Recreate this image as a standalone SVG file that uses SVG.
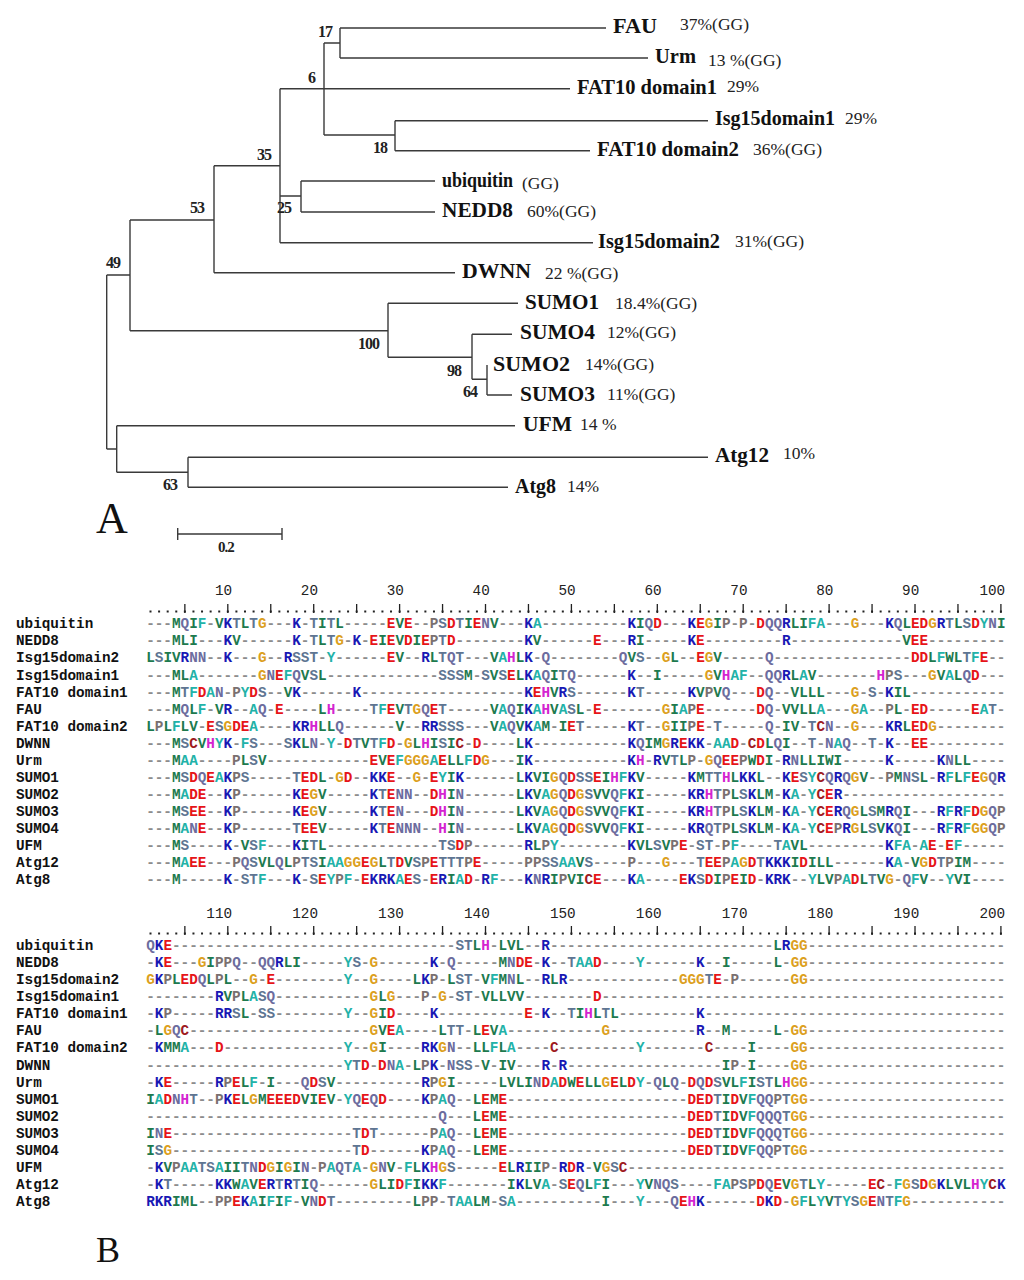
<svg xmlns="http://www.w3.org/2000/svg" width="1024" height="1280" viewBox="0 0 1024 1280">
<style>
.ln{fill:none;stroke:#3a3a3a;stroke-width:1.4}
.lab{font-family:"Liberation Serif","Times New Roman",serif;font-weight:bold;font-size:21px;fill:#111}
.pct{font-family:"Liberation Serif","Times New Roman",serif;font-size:17.5px;fill:#222}
.bs{font-family:"Liberation Serif","Times New Roman",serif;font-weight:bold;font-size:16px;fill:#222;letter-spacing:-1px}
.big{font-family:"Liberation Serif","Times New Roman",serif;fill:#111}
.nm{font-family:"Liberation Mono","Courier New",monospace;font-weight:bold;font-size:14.32px;fill:#111}
.sq{font-family:"Liberation Mono","Courier New",monospace;font-weight:bold;font-size:14.32px;fill:#8c8c8c}
.num{font-family:"Liberation Mono","Courier New",monospace;font-size:14.32px;fill:#222;text-anchor:end}
.dots{stroke:#222;stroke-width:2;stroke-dasharray:2 6.59}
.tick{fill:none;stroke:#222;stroke-width:1.3}
.g{fill:#1d7a4e}.t{fill:#22b2a8}.b{fill:#1818b4}.r{fill:#e61418}.o{fill:#dca01e}.m{fill:#d424d0}.c{fill:#9e1a1e}.s{fill:#5e7592}.n{fill:#6c6c9e}.p{fill:#7a7070}
</style>
<rect width="1024" height="1280" fill="#fff"/>
<g id="connectors">
<path class="ln" d="M340 28V58M340 28H606M340 58H648M324 43H340M324 43V135M280 88.7H570M280 88.7V242.7M324 135H395M395 120.7V150.7M395 120.7H708M395 150.7H590M214 165.7H280M280 196H301M301 181V212M301 181H435M301 212H435M280 242.7H593M214 165.7V272.7M214 272.7H455M130 220H214M130 220V330.7M106.7 275H130M106.7 275V449M130 330.7H388M388 303.3V357.3M388 303.3H518M388 357.3H472M472 334.3V379.3M472 334.3H512M472 379.3H487M487 365V395M487 395H512M106.7 449H116.7M116.7 425.7V472.3M116.7 425.7H515M116.7 472.3H188M188 457.3V487.3M188 457.3H708M188 487.3H508"/>
</g>
<g id="bootstrap">
<text class="bs" x="318" y="37">17</text>
<text class="bs" x="308" y="83">6</text>
<text class="bs" x="373" y="153">18</text>
<text class="bs" x="257" y="160">35</text>
<text class="bs" x="277" y="213">25</text>
<text class="bs" x="190" y="213">53</text>
<text class="bs" x="106" y="268">49</text>
<text class="bs" x="358" y="349">100</text>
<text class="bs" x="447" y="376">98</text>
<text class="bs" x="463" y="397">64</text>
<text class="bs" x="163" y="490">63</text>
</g>
<g id="n-FAU"><text class="lab" x="613" y="33" textLength="44" lengthAdjust="spacingAndGlyphs">FAU</text><text class="pct" x="680" y="30">37%(GG)</text></g>
<g id="n-Urm"><text class="lab" x="655" y="63" textLength="41" lengthAdjust="spacingAndGlyphs">Urm</text><text class="pct" x="708" y="66">13 %(GG)</text></g>
<g id="n-FAT10d1"><text class="lab" x="577" y="94" textLength="140" lengthAdjust="spacingAndGlyphs">FAT10 domain1</text><text class="pct" x="727" y="92">29%</text></g>
<g id="n-Isg15d1"><text class="lab" x="715" y="125" textLength="120" lengthAdjust="spacingAndGlyphs">Isg15domain1</text><text class="pct" x="845" y="124">29%</text></g>
<g id="n-FAT10d2"><text class="lab" x="597" y="156" textLength="142" lengthAdjust="spacingAndGlyphs">FAT10 domain2</text><text class="pct" x="753" y="155">36%(GG)</text></g>
<g id="n-ubiquitin"><text class="lab" x="442" y="187" textLength="71" lengthAdjust="spacingAndGlyphs">ubiquitin</text><text class="pct" x="522" y="189">(GG)</text></g>
<g id="n-NEDD8"><text class="lab" x="442" y="217" textLength="71" lengthAdjust="spacingAndGlyphs">NEDD8</text><text class="pct" x="527" y="217">60%(GG)</text></g>
<g id="n-Isg15d2"><text class="lab" x="598" y="248" textLength="122" lengthAdjust="spacingAndGlyphs">Isg15domain2</text><text class="pct" x="735" y="247">31%(GG)</text></g>
<g id="n-DWNN"><text class="lab" x="462" y="278" textLength="69" lengthAdjust="spacingAndGlyphs">DWNN</text><text class="pct" x="545" y="279">22 %(GG)</text></g>
<g id="n-SUMO1"><text class="lab" x="525" y="309" textLength="74" lengthAdjust="spacingAndGlyphs">SUMO1</text><text class="pct" x="615" y="309">18.4%(GG)</text></g>
<g id="n-SUMO4"><text class="lab" x="520" y="339" textLength="75" lengthAdjust="spacingAndGlyphs">SUMO4</text><text class="pct" x="607" y="338">12%(GG)</text></g>
<g id="n-SUMO2"><text class="lab" x="493" y="371" textLength="77" lengthAdjust="spacingAndGlyphs">SUMO2</text><text class="pct" x="585" y="370">14%(GG)</text></g>
<g id="n-SUMO3"><text class="lab" x="520" y="401" textLength="75" lengthAdjust="spacingAndGlyphs">SUMO3</text><text class="pct" x="607" y="400">11%(GG)</text></g>
<g id="n-UFM"><text class="lab" x="523" y="431" textLength="49" lengthAdjust="spacingAndGlyphs">UFM</text><text class="pct" x="580" y="430">14 %</text></g>
<g id="n-Atg12"><text class="lab" x="715" y="462" textLength="54" lengthAdjust="spacingAndGlyphs">Atg12</text><text class="pct" x="783" y="459">10%</text></g>
<g id="n-Atg8"><text class="lab" x="515" y="493" textLength="41" lengthAdjust="spacingAndGlyphs">Atg8</text><text class="pct" x="567" y="492">14%</text></g>
<g id="scalebar">
<path class="ln" d="M177.7 534H282M177.7 528V540M282 528V540"/>
<text class="bs" x="218" y="552" style="font-size:15px">0.2</text>
</g>
<text class="big" x="96" y="533" style="font-size:44px">A</text>
<text class="big" x="96" y="1262" style="font-size:36px">B</text>
<g id="ruler1">
<text class="num" x="232.1" y="595">10</text><text class="num" x="318" y="595">20</text><text class="num" x="403.9" y="595">30</text><text class="num" x="489.8" y="595">40</text><text class="num" x="575.7" y="595">50</text><text class="num" x="661.6" y="595">60</text><text class="num" x="747.5" y="595">70</text><text class="num" x="833.4" y="595">80</text><text class="num" x="919.3" y="595">90</text><text class="num" x="1005.2" y="595">100</text>
<line class="dots" x1="149.5" y1="611.5" x2="1002" y2="611.5"/>
<path class="tick" d="M184.86 604v9m42.95-9v9m42.95-9v9m42.95-9v9m42.95-9v9m42.95-9v9m42.95-9v9m42.95-9v9m42.95-9v9m42.95-9v9m42.95-9v9m42.95-9v9m42.95-9v9m42.95-9v9m42.95-9v9m42.95-9v9m42.95-9v9m42.95-9v9m42.95-9v9m42.95-9v9"/>
</g>
<g id="ruler2">
<text class="num" x="232.1" y="918">110</text><text class="num" x="318" y="918">120</text><text class="num" x="403.9" y="918">130</text><text class="num" x="489.8" y="918">140</text><text class="num" x="575.7" y="918">150</text><text class="num" x="661.6" y="918">160</text><text class="num" x="747.5" y="918">170</text><text class="num" x="833.4" y="918">180</text><text class="num" x="919.3" y="918">190</text><text class="num" x="1005.2" y="918">200</text>
<line class="dots" x1="149.5" y1="933.5" x2="1002" y2="933.5"/>
<path class="tick" d="M184.86 926v9m42.95-9v9m42.95-9v9m42.95-9v9m42.95-9v9m42.95-9v9m42.95-9v9m42.95-9v9m42.95-9v9m42.95-9v9m42.95-9v9m42.95-9v9m42.95-9v9m42.95-9v9m42.95-9v9m42.95-9v9m42.95-9v9m42.95-9v9m42.95-9v9m42.95-9v9"/>
</g>
<g id="names1">
<text class="nm" x="16" y="628.3">ubiquitin</text>
<text class="nm" x="16" y="645.4">NEDD8</text>
<text class="nm" x="16" y="662.4">Isg15domain2</text>
<text class="nm" x="16" y="679.5">Isg15domain1</text>
<text class="nm" x="16" y="696.6">FAT10 domain1</text>
<text class="nm" x="16" y="713.7">FAU</text>
<text class="nm" x="16" y="730.7">FAT10 domain2</text>
<text class="nm" x="16" y="747.8">DWNN</text>
<text class="nm" x="16" y="764.9">Urm</text>
<text class="nm" x="16" y="781.9">SUMO1</text>
<text class="nm" x="16" y="799">SUMO2</text>
<text class="nm" x="16" y="816.1">SUMO3</text>
<text class="nm" x="16" y="833.1">SUMO4</text>
<text class="nm" x="16" y="850.2">UFM</text>
<text class="nm" x="16" y="867.3">Atg12</text>
<text class="nm" x="16" y="884.4">Atg8</text>
</g>
<g id="names2">
<text class="nm" x="16" y="950">ubiquitin</text>
<text class="nm" x="16" y="967.1">NEDD8</text>
<text class="nm" x="16" y="984.1">Isg15domain2</text>
<text class="nm" x="16" y="1001.2">Isg15domain1</text>
<text class="nm" x="16" y="1018.3">FAT10 domain1</text>
<text class="nm" x="16" y="1035.4">FAU</text>
<text class="nm" x="16" y="1052.4">FAT10 domain2</text>
<text class="nm" x="16" y="1069.5">DWNN</text>
<text class="nm" x="16" y="1086.6">Urm</text>
<text class="nm" x="16" y="1103.6">SUMO1</text>
<text class="nm" x="16" y="1120.7">SUMO2</text>
<text class="nm" x="16" y="1137.8">SUMO3</text>
<text class="nm" x="16" y="1154.8">SUMO4</text>
<text class="nm" x="16" y="1171.9">UFM</text>
<text class="nm" x="16" y="1189">Atg12</text>
<text class="nm" x="16" y="1206.1">Atg8</text>
</g>
<g id="block1">
<text class="sq" x="146.2" y="628.3">---<tspan class="g">M</tspan><tspan class="n">Q</tspan><tspan class="g">I</tspan><tspan class="t">F</tspan>-<tspan class="g">V</tspan><tspan class="b">K</tspan><tspan class="s">T</tspan><tspan class="g">L</tspan><tspan class="s">T</tspan><tspan class="o">G</tspan>---<tspan class="b">K</tspan>-<tspan class="s">T</tspan><tspan class="g">I</tspan><tspan class="s">T</tspan><tspan class="g">L</tspan>-----<tspan class="r">E</tspan><tspan class="g">V</tspan><tspan class="r">E</tspan>--<tspan class="p">P</tspan><tspan class="s">S</tspan><tspan class="r">D</tspan><tspan class="s">T</tspan><tspan class="g">I</tspan><tspan class="r">E</tspan><tspan class="n">N</tspan><tspan class="g">V</tspan>---<tspan class="b">K</tspan><tspan class="t">A</tspan>----------<tspan class="b">K</tspan><tspan class="g">I</tspan><tspan class="n">Q</tspan><tspan class="r">D</tspan>---<tspan class="b">K</tspan><tspan class="r">E</tspan><tspan class="o">G</tspan><tspan class="g">I</tspan><tspan class="p">P</tspan>-<tspan class="p">P</tspan>-<tspan class="r">D</tspan><tspan class="n">QQ</tspan><tspan class="b">R</tspan><tspan class="g">LI</tspan><tspan class="t">FA</tspan>---<tspan class="o">G</tspan>---<tspan class="b">K</tspan><tspan class="n">Q</tspan><tspan class="g">L</tspan><tspan class="r">ED</tspan><tspan class="o">G</tspan><tspan class="b">R</tspan><tspan class="s">T</tspan><tspan class="g">L</tspan><tspan class="s">S</tspan><tspan class="r">D</tspan><tspan class="t">Y</tspan><tspan class="n">N</tspan><tspan class="g">I</tspan></text>
<text class="sq" x="146.2" y="645.4">---<tspan class="g">MLI</tspan>---<tspan class="b">K</tspan><tspan class="g">V</tspan>------<tspan class="b">K</tspan>-<tspan class="s">T</tspan><tspan class="g">L</tspan><tspan class="s">T</tspan><tspan class="o">G</tspan>-<tspan class="b">K</tspan>-<tspan class="r">E</tspan><tspan class="g">I</tspan><tspan class="r">E</tspan><tspan class="g">V</tspan><tspan class="r">D</tspan><tspan class="g">I</tspan><tspan class="r">E</tspan><tspan class="p">P</tspan><tspan class="s">T</tspan><tspan class="r">D</tspan>--------<tspan class="b">K</tspan><tspan class="g">V</tspan>------<tspan class="r">E</tspan>---<tspan class="b">R</tspan><tspan class="g">I</tspan>-----<tspan class="b">K</tspan><tspan class="r">E</tspan>---------<tspan class="b">R</tspan>-------------<tspan class="g">V</tspan><tspan class="r">EE</tspan>---------</text>
<text class="sq" x="146.2" y="662.4"><tspan class="g">L</tspan><tspan class="s">S</tspan><tspan class="g">IV</tspan><tspan class="b">R</tspan><tspan class="n">NN</tspan>--<tspan class="b">K</tspan>---<tspan class="o">G</tspan>--<tspan class="b">R</tspan><tspan class="s">SST</tspan>-<tspan class="t">Y</tspan>------<tspan class="r">E</tspan><tspan class="g">V</tspan>--<tspan class="b">R</tspan><tspan class="g">L</tspan><tspan class="s">T</tspan><tspan class="n">Q</tspan><tspan class="s">T</tspan>---<tspan class="g">V</tspan><tspan class="t">A</tspan><tspan class="m">H</tspan><tspan class="g">L</tspan><tspan class="b">K</tspan>-<tspan class="n">Q</tspan>--------<tspan class="n">Q</tspan><tspan class="g">V</tspan><tspan class="s">S</tspan>--<tspan class="o">G</tspan><tspan class="g">L</tspan>--<tspan class="r">E</tspan><tspan class="o">G</tspan><tspan class="g">V</tspan>-----<tspan class="n">Q</tspan>----------------<tspan class="r">DD</tspan><tspan class="g">L</tspan><tspan class="t">F</tspan><tspan class="g">WL</tspan><tspan class="s">T</tspan><tspan class="t">F</tspan><tspan class="r">E</tspan>--</text>
<text class="sq" x="146.2" y="679.5">---<tspan class="g">ML</tspan><tspan class="t">A</tspan>-------<tspan class="o">G</tspan><tspan class="n">N</tspan><tspan class="r">E</tspan><tspan class="t">F</tspan><tspan class="n">Q</tspan><tspan class="g">V</tspan><tspan class="s">S</tspan><tspan class="g">L</tspan>-------------<tspan class="s">SSS</tspan><tspan class="g">M</tspan>-<tspan class="s">S</tspan><tspan class="g">V</tspan><tspan class="s">S</tspan><tspan class="r">E</tspan><tspan class="g">L</tspan><tspan class="b">K</tspan><tspan class="t">A</tspan><tspan class="n">Q</tspan><tspan class="g">I</tspan><tspan class="s">T</tspan><tspan class="n">Q</tspan>------<tspan class="b">K</tspan>--<tspan class="g">I</tspan>-----<tspan class="o">G</tspan><tspan class="g">V</tspan><tspan class="m">H</tspan><tspan class="t">AF</tspan>--<tspan class="n">QQ</tspan><tspan class="b">R</tspan><tspan class="g">L</tspan><tspan class="t">A</tspan><tspan class="g">V</tspan>-------<tspan class="m">H</tspan><tspan class="p">P</tspan><tspan class="s">S</tspan>---<tspan class="o">G</tspan><tspan class="g">V</tspan><tspan class="t">A</tspan><tspan class="g">L</tspan><tspan class="n">Q</tspan><tspan class="r">D</tspan>---</text>
<text class="sq" x="146.2" y="696.6">---<tspan class="g">M</tspan><tspan class="s">T</tspan><tspan class="t">F</tspan><tspan class="r">D</tspan><tspan class="t">A</tspan><tspan class="n">N</tspan>-<tspan class="p">P</tspan><tspan class="t">Y</tspan><tspan class="r">D</tspan><tspan class="s">S</tspan>--<tspan class="g">V</tspan><tspan class="b">K</tspan>------<tspan class="b">K</tspan>-------------------<tspan class="b">K</tspan><tspan class="r">E</tspan><tspan class="m">H</tspan><tspan class="g">V</tspan><tspan class="b">R</tspan><tspan class="s">S</tspan>------<tspan class="b">K</tspan><tspan class="s">T</tspan>-----<tspan class="b">K</tspan><tspan class="g">V</tspan><tspan class="p">P</tspan><tspan class="g">V</tspan><tspan class="n">Q</tspan>---<tspan class="r">D</tspan><tspan class="n">Q</tspan>--<tspan class="g">VLLL</tspan>---<tspan class="o">G</tspan>-<tspan class="s">S</tspan>-<tspan class="b">K</tspan><tspan class="g">IL</tspan>-----------</text>
<text class="sq" x="146.2" y="713.7">---<tspan class="g">M</tspan><tspan class="n">Q</tspan><tspan class="g">L</tspan><tspan class="t">F</tspan>-<tspan class="g">V</tspan><tspan class="b">R</tspan>--<tspan class="t">A</tspan><tspan class="n">Q</tspan>-<tspan class="r">E</tspan>----<tspan class="g">L</tspan><tspan class="m">H</tspan>----<tspan class="s">T</tspan><tspan class="t">F</tspan><tspan class="r">E</tspan><tspan class="g">V</tspan><tspan class="s">T</tspan><tspan class="o">G</tspan><tspan class="n">Q</tspan><tspan class="r">E</tspan><tspan class="s">T</tspan>-----<tspan class="g">V</tspan><tspan class="t">A</tspan><tspan class="n">Q</tspan><tspan class="g">I</tspan><tspan class="b">K</tspan><tspan class="t">A</tspan><tspan class="m">H</tspan><tspan class="g">V</tspan><tspan class="t">A</tspan><tspan class="s">S</tspan><tspan class="g">L</tspan>-<tspan class="r">E</tspan>-------<tspan class="o">G</tspan><tspan class="g">I</tspan><tspan class="t">A</tspan><tspan class="p">P</tspan><tspan class="r">E</tspan>------<tspan class="r">D</tspan><tspan class="n">Q</tspan>-<tspan class="g">VVLL</tspan><tspan class="t">A</tspan>---<tspan class="o">G</tspan><tspan class="t">A</tspan>--<tspan class="p">P</tspan><tspan class="g">L</tspan>-<tspan class="r">ED</tspan>-----<tspan class="r">E</tspan><tspan class="t">A</tspan><tspan class="s">T</tspan>-</text>
<text class="sq" x="146.2" y="730.7"><tspan class="g">L</tspan><tspan class="p">P</tspan><tspan class="g">L</tspan><tspan class="t">F</tspan><tspan class="g">LV</tspan>-<tspan class="r">E</tspan><tspan class="s">S</tspan><tspan class="o">G</tspan><tspan class="r">DE</tspan><tspan class="t">A</tspan>----<tspan class="b">KR</tspan><tspan class="m">H</tspan><tspan class="g">LL</tspan><tspan class="n">Q</tspan>------<tspan class="g">V</tspan>--<tspan class="b">RR</tspan><tspan class="s">SSS</tspan>---<tspan class="g">V</tspan><tspan class="t">A</tspan><tspan class="n">Q</tspan><tspan class="g">V</tspan><tspan class="b">K</tspan><tspan class="t">A</tspan><tspan class="g">M</tspan>-<tspan class="g">I</tspan><tspan class="r">E</tspan><tspan class="s">T</tspan>-----<tspan class="b">K</tspan><tspan class="s">T</tspan>--<tspan class="o">G</tspan><tspan class="g">II</tspan><tspan class="p">P</tspan><tspan class="r">E</tspan>-<tspan class="s">T</tspan>-----<tspan class="n">Q</tspan>-<tspan class="g">IV</tspan>-<tspan class="s">T</tspan><tspan class="c">C</tspan><tspan class="n">N</tspan>--<tspan class="o">G</tspan>---<tspan class="b">KR</tspan><tspan class="g">L</tspan><tspan class="r">ED</tspan><tspan class="o">G</tspan>--------</text>
<text class="sq" x="146.2" y="747.8">---<tspan class="g">M</tspan><tspan class="s">S</tspan><tspan class="c">C</tspan><tspan class="g">V</tspan><tspan class="m">H</tspan><tspan class="t">Y</tspan><tspan class="b">K</tspan>-<tspan class="t">F</tspan><tspan class="s">S</tspan>---<tspan class="s">S</tspan><tspan class="b">K</tspan><tspan class="g">L</tspan><tspan class="n">N</tspan>-<tspan class="t">Y</tspan>-<tspan class="r">D</tspan><tspan class="s">T</tspan><tspan class="g">V</tspan><tspan class="s">T</tspan><tspan class="t">F</tspan><tspan class="r">D</tspan>-<tspan class="o">G</tspan><tspan class="g">L</tspan><tspan class="m">H</tspan><tspan class="g">I</tspan><tspan class="s">S</tspan><tspan class="g">I</tspan><tspan class="c">C</tspan>-<tspan class="r">D</tspan>----<tspan class="g">L</tspan><tspan class="b">K</tspan>-----------<tspan class="b">K</tspan><tspan class="n">Q</tspan><tspan class="g">IM</tspan><tspan class="o">G</tspan><tspan class="b">R</tspan><tspan class="r">E</tspan><tspan class="b">KK</tspan>-<tspan class="t">AA</tspan><tspan class="r">D</tspan>-<tspan class="c">C</tspan><tspan class="r">D</tspan><tspan class="g">L</tspan><tspan class="n">Q</tspan><tspan class="g">I</tspan>--<tspan class="s">T</tspan>-<tspan class="n">N</tspan><tspan class="t">A</tspan><tspan class="n">Q</tspan>--<tspan class="s">T</tspan>-<tspan class="b">K</tspan>--<tspan class="r">EE</tspan>---------</text>
<text class="sq" x="146.2" y="764.9">---<tspan class="g">M</tspan><tspan class="t">AA</tspan>----<tspan class="p">P</tspan><tspan class="g">L</tspan><tspan class="s">S</tspan><tspan class="g">V</tspan>------------<tspan class="r">E</tspan><tspan class="g">V</tspan><tspan class="r">E</tspan><tspan class="t">F</tspan><tspan class="o">GGG</tspan><tspan class="t">A</tspan><tspan class="r">E</tspan><tspan class="g">LL</tspan><tspan class="t">F</tspan><tspan class="r">D</tspan><tspan class="o">G</tspan>---<tspan class="g">I</tspan><tspan class="b">K</tspan>-----------<tspan class="b">K</tspan><tspan class="m">H</tspan>-<tspan class="b">R</tspan><tspan class="g">V</tspan><tspan class="s">T</tspan><tspan class="g">L</tspan><tspan class="p">P</tspan>-<tspan class="o">G</tspan><tspan class="n">Q</tspan><tspan class="r">EE</tspan><tspan class="p">P</tspan><tspan class="g">W</tspan><tspan class="r">D</tspan><tspan class="g">I</tspan>-<tspan class="b">R</tspan><tspan class="n">N</tspan><tspan class="g">LLIWI</tspan>-----<tspan class="b">K</tspan>-----<tspan class="b">K</tspan><tspan class="n">N</tspan><tspan class="g">LL</tspan>----</text>
<text class="sq" x="146.2" y="781.9">---<tspan class="g">M</tspan><tspan class="s">S</tspan><tspan class="r">D</tspan><tspan class="n">Q</tspan><tspan class="r">E</tspan><tspan class="t">A</tspan><tspan class="b">K</tspan><tspan class="p">P</tspan><tspan class="s">S</tspan>-----<tspan class="s">T</tspan><tspan class="r">ED</tspan><tspan class="g">L</tspan>-<tspan class="o">G</tspan><tspan class="r">D</tspan>--<tspan class="b">KK</tspan><tspan class="r">E</tspan>--<tspan class="o">G</tspan>-<tspan class="r">E</tspan><tspan class="t">Y</tspan><tspan class="g">I</tspan><tspan class="b">K</tspan>------<tspan class="g">L</tspan><tspan class="b">K</tspan><tspan class="g">VI</tspan><tspan class="o">G</tspan><tspan class="n">Q</tspan><tspan class="r">D</tspan><tspan class="s">SS</tspan><tspan class="r">E</tspan><tspan class="g">I</tspan><tspan class="m">H</tspan><tspan class="t">F</tspan><tspan class="b">K</tspan><tspan class="g">V</tspan>-----<tspan class="b">K</tspan><tspan class="g">M</tspan><tspan class="s">TT</tspan><tspan class="m">H</tspan><tspan class="g">L</tspan><tspan class="b">KK</tspan><tspan class="g">L</tspan>--<tspan class="b">K</tspan><tspan class="r">E</tspan><tspan class="s">S</tspan><tspan class="t">Y</tspan><tspan class="c">C</tspan><tspan class="n">Q</tspan><tspan class="b">R</tspan><tspan class="n">Q</tspan><tspan class="o">G</tspan><tspan class="g">V</tspan>--<tspan class="p">P</tspan><tspan class="g">M</tspan><tspan class="n">N</tspan><tspan class="s">S</tspan><tspan class="g">L</tspan>-<tspan class="b">R</tspan><tspan class="t">F</tspan><tspan class="g">L</tspan><tspan class="t">F</tspan><tspan class="r">E</tspan><tspan class="o">G</tspan><tspan class="n">Q</tspan><tspan class="b">R</tspan></text>
<text class="sq" x="146.2" y="799">---<tspan class="g">M</tspan><tspan class="t">A</tspan><tspan class="r">DE</tspan>--<tspan class="b">K</tspan><tspan class="p">P</tspan>------<tspan class="b">K</tspan><tspan class="r">E</tspan><tspan class="o">G</tspan><tspan class="g">V</tspan>-----<tspan class="b">K</tspan><tspan class="s">T</tspan><tspan class="r">E</tspan><tspan class="n">NN</tspan>--<tspan class="r">D</tspan><tspan class="m">H</tspan><tspan class="g">I</tspan><tspan class="n">N</tspan>------<tspan class="g">L</tspan><tspan class="b">K</tspan><tspan class="g">V</tspan><tspan class="t">A</tspan><tspan class="o">G</tspan><tspan class="n">Q</tspan><tspan class="r">D</tspan><tspan class="o">G</tspan><tspan class="s">S</tspan><tspan class="g">VV</tspan><tspan class="n">Q</tspan><tspan class="t">F</tspan><tspan class="b">K</tspan><tspan class="g">I</tspan>-----<tspan class="b">KR</tspan><tspan class="m">H</tspan><tspan class="s">T</tspan><tspan class="p">P</tspan><tspan class="g">L</tspan><tspan class="s">S</tspan><tspan class="b">K</tspan><tspan class="g">LM</tspan>-<tspan class="b">K</tspan><tspan class="t">A</tspan>-<tspan class="t">Y</tspan><tspan class="c">C</tspan><tspan class="r">E</tspan><tspan class="b">R</tspan>-------------------</text>
<text class="sq" x="146.2" y="816.1">---<tspan class="g">M</tspan><tspan class="s">S</tspan><tspan class="r">EE</tspan>--<tspan class="b">K</tspan><tspan class="p">P</tspan>------<tspan class="b">K</tspan><tspan class="r">E</tspan><tspan class="o">G</tspan><tspan class="g">V</tspan>-----<tspan class="b">K</tspan><tspan class="s">T</tspan><tspan class="r">E</tspan><tspan class="n">N</tspan>---<tspan class="r">D</tspan><tspan class="m">H</tspan><tspan class="g">I</tspan><tspan class="n">N</tspan>------<tspan class="g">L</tspan><tspan class="b">K</tspan><tspan class="g">V</tspan><tspan class="t">A</tspan><tspan class="o">G</tspan><tspan class="n">Q</tspan><tspan class="r">D</tspan><tspan class="o">G</tspan><tspan class="s">S</tspan><tspan class="g">VV</tspan><tspan class="n">Q</tspan><tspan class="t">F</tspan><tspan class="b">K</tspan><tspan class="g">I</tspan>-----<tspan class="b">KR</tspan><tspan class="m">H</tspan><tspan class="s">T</tspan><tspan class="p">P</tspan><tspan class="g">L</tspan><tspan class="s">S</tspan><tspan class="b">K</tspan><tspan class="g">LM</tspan>-<tspan class="b">K</tspan><tspan class="t">A</tspan>-<tspan class="t">Y</tspan><tspan class="c">C</tspan><tspan class="r">E</tspan><tspan class="b">R</tspan><tspan class="n">Q</tspan><tspan class="o">G</tspan><tspan class="g">L</tspan><tspan class="s">S</tspan><tspan class="g">M</tspan><tspan class="b">R</tspan><tspan class="n">Q</tspan><tspan class="g">I</tspan>---<tspan class="b">R</tspan><tspan class="t">F</tspan><tspan class="b">R</tspan><tspan class="t">F</tspan><tspan class="r">D</tspan><tspan class="o">G</tspan><tspan class="n">Q</tspan><tspan class="p">P</tspan></text>
<text class="sq" x="146.2" y="833.1">---<tspan class="g">M</tspan><tspan class="t">A</tspan><tspan class="n">N</tspan><tspan class="r">E</tspan>--<tspan class="b">K</tspan><tspan class="p">P</tspan>------<tspan class="s">T</tspan><tspan class="r">EE</tspan><tspan class="g">V</tspan>-----<tspan class="b">K</tspan><tspan class="s">T</tspan><tspan class="r">E</tspan><tspan class="n">NNN</tspan>--<tspan class="m">H</tspan><tspan class="g">I</tspan><tspan class="n">N</tspan>------<tspan class="g">L</tspan><tspan class="b">K</tspan><tspan class="g">V</tspan><tspan class="t">A</tspan><tspan class="o">G</tspan><tspan class="n">Q</tspan><tspan class="r">D</tspan><tspan class="o">G</tspan><tspan class="s">S</tspan><tspan class="g">VV</tspan><tspan class="n">Q</tspan><tspan class="t">F</tspan><tspan class="b">K</tspan><tspan class="g">I</tspan>-----<tspan class="b">KR</tspan><tspan class="n">Q</tspan><tspan class="s">T</tspan><tspan class="p">P</tspan><tspan class="g">L</tspan><tspan class="s">S</tspan><tspan class="b">K</tspan><tspan class="g">LM</tspan>-<tspan class="b">K</tspan><tspan class="t">A</tspan>-<tspan class="t">Y</tspan><tspan class="c">C</tspan><tspan class="r">E</tspan><tspan class="p">P</tspan><tspan class="b">R</tspan><tspan class="o">G</tspan><tspan class="g">L</tspan><tspan class="s">S</tspan><tspan class="g">V</tspan><tspan class="b">K</tspan><tspan class="n">Q</tspan><tspan class="g">I</tspan>---<tspan class="b">R</tspan><tspan class="t">F</tspan><tspan class="b">R</tspan><tspan class="t">F</tspan><tspan class="o">GG</tspan><tspan class="n">Q</tspan><tspan class="p">P</tspan></text>
<text class="sq" x="146.2" y="850.2">---<tspan class="g">M</tspan><tspan class="s">S</tspan>----<tspan class="b">K</tspan>-<tspan class="g">V</tspan><tspan class="s">S</tspan><tspan class="t">F</tspan>---<tspan class="b">K</tspan><tspan class="g">I</tspan><tspan class="s">T</tspan><tspan class="g">L</tspan>-------------<tspan class="s">TS</tspan><tspan class="r">D</tspan><tspan class="p">P</tspan>------<tspan class="b">R</tspan><tspan class="g">L</tspan><tspan class="p">P</tspan><tspan class="t">Y</tspan>--------<tspan class="b">K</tspan><tspan class="g">VL</tspan><tspan class="s">S</tspan><tspan class="g">V</tspan><tspan class="p">P</tspan><tspan class="r">E</tspan>-<tspan class="s">ST</tspan>-<tspan class="p">P</tspan><tspan class="t">F</tspan>----<tspan class="s">T</tspan><tspan class="t">A</tspan><tspan class="g">VL</tspan>---------<tspan class="b">K</tspan><tspan class="t">FA</tspan>-<tspan class="t">A</tspan><tspan class="r">E</tspan>-<tspan class="r">E</tspan><tspan class="t">F</tspan>-----</text>
<text class="sq" x="146.2" y="867.3">---<tspan class="g">M</tspan><tspan class="t">A</tspan><tspan class="r">EE</tspan>---<tspan class="p">P</tspan><tspan class="n">Q</tspan><tspan class="s">S</tspan><tspan class="g">VL</tspan><tspan class="n">Q</tspan><tspan class="g">L</tspan><tspan class="p">P</tspan><tspan class="s">TS</tspan><tspan class="g">I</tspan><tspan class="t">AA</tspan><tspan class="o">GG</tspan><tspan class="r">E</tspan><tspan class="o">G</tspan><tspan class="g">L</tspan><tspan class="s">T</tspan><tspan class="r">D</tspan><tspan class="g">V</tspan><tspan class="s">S</tspan><tspan class="p">P</tspan><tspan class="r">E</tspan><tspan class="s">TTT</tspan><tspan class="p">P</tspan><tspan class="r">E</tspan>-----<tspan class="p">PP</tspan><tspan class="s">SS</tspan><tspan class="t">AA</tspan><tspan class="g">V</tspan><tspan class="s">S</tspan>----<tspan class="p">P</tspan>---<tspan class="o">G</tspan>---<tspan class="s">T</tspan><tspan class="r">EE</tspan><tspan class="p">P</tspan><tspan class="t">A</tspan><tspan class="o">G</tspan><tspan class="r">D</tspan><tspan class="s">T</tspan><tspan class="b">KKK</tspan><tspan class="g">I</tspan><tspan class="r">D</tspan><tspan class="g">ILL</tspan>------<tspan class="b">K</tspan><tspan class="t">A</tspan>-<tspan class="g">V</tspan><tspan class="o">G</tspan><tspan class="r">D</tspan><tspan class="s">T</tspan><tspan class="p">P</tspan><tspan class="g">IM</tspan>----</text>
<text class="sq" x="146.2" y="884.4">---<tspan class="g">M</tspan>-----<tspan class="b">K</tspan>-<tspan class="s">ST</tspan><tspan class="t">F</tspan>---<tspan class="b">K</tspan>-<tspan class="s">S</tspan><tspan class="r">E</tspan><tspan class="t">Y</tspan><tspan class="p">P</tspan><tspan class="t">F</tspan>-<tspan class="r">E</tspan><tspan class="b">KRK</tspan><tspan class="t">A</tspan><tspan class="r">E</tspan><tspan class="s">S</tspan>-<tspan class="r">E</tspan><tspan class="b">R</tspan><tspan class="g">I</tspan><tspan class="t">A</tspan><tspan class="r">D</tspan>-<tspan class="b">R</tspan><tspan class="t">F</tspan>---<tspan class="b">K</tspan><tspan class="n">N</tspan><tspan class="b">R</tspan><tspan class="g">I</tspan><tspan class="p">P</tspan><tspan class="g">VI</tspan><tspan class="c">C</tspan><tspan class="r">E</tspan>---<tspan class="b">K</tspan><tspan class="t">A</tspan>----<tspan class="r">E</tspan><tspan class="b">K</tspan><tspan class="s">S</tspan><tspan class="r">D</tspan><tspan class="g">I</tspan><tspan class="p">P</tspan><tspan class="r">E</tspan><tspan class="g">I</tspan><tspan class="r">D</tspan>-<tspan class="b">KRK</tspan>--<tspan class="t">Y</tspan><tspan class="g">LV</tspan><tspan class="p">P</tspan><tspan class="t">A</tspan><tspan class="r">D</tspan><tspan class="g">L</tspan><tspan class="s">T</tspan><tspan class="g">V</tspan><tspan class="o">G</tspan>-<tspan class="n">Q</tspan><tspan class="t">F</tspan><tspan class="g">V</tspan>--<tspan class="t">Y</tspan><tspan class="g">VI</tspan>----</text>
</g>
<g id="block2">
<text class="sq" x="146.2" y="950"><tspan class="n">Q</tspan><tspan class="b">K</tspan><tspan class="r">E</tspan>---------------------------------<tspan class="s">ST</tspan><tspan class="g">L</tspan><tspan class="m">H</tspan>-<tspan class="g">LVL</tspan>--<tspan class="b">R</tspan>--------------------------<tspan class="g">L</tspan><tspan class="b">R</tspan><tspan class="o">GG</tspan>-----------------------</text>
<text class="sq" x="146.2" y="967.1">-<tspan class="b">K</tspan><tspan class="r">E</tspan>---<tspan class="o">G</tspan><tspan class="g">I</tspan><tspan class="p">PP</tspan><tspan class="n">Q</tspan>--<tspan class="n">QQ</tspan><tspan class="b">R</tspan><tspan class="g">LI</tspan>-----<tspan class="t">Y</tspan><tspan class="s">S</tspan>-<tspan class="o">G</tspan>------<tspan class="b">K</tspan>-<tspan class="n">Q</tspan>-----<tspan class="g">M</tspan><tspan class="n">N</tspan><tspan class="r">DE</tspan>-<tspan class="b">K</tspan>--<tspan class="s">T</tspan><tspan class="t">AA</tspan><tspan class="r">D</tspan>----<tspan class="t">Y</tspan>------<tspan class="b">K</tspan>--<tspan class="g">I</tspan>-----<tspan class="g">L</tspan>-<tspan class="o">GG</tspan>-----------------------</text>
<text class="sq" x="146.2" y="984.1"><tspan class="o">G</tspan><tspan class="b">K</tspan><tspan class="p">P</tspan><tspan class="g">L</tspan><tspan class="r">ED</tspan><tspan class="n">Q</tspan><tspan class="g">L</tspan><tspan class="p">P</tspan><tspan class="g">L</tspan>--<tspan class="o">G</tspan>-<tspan class="r">E</tspan>--------<tspan class="t">Y</tspan>--<tspan class="o">G</tspan>----<tspan class="g">L</tspan><tspan class="b">K</tspan><tspan class="p">P</tspan>-<tspan class="g">L</tspan><tspan class="s">ST</tspan>-<tspan class="g">V</tspan><tspan class="t">F</tspan><tspan class="g">M</tspan><tspan class="n">N</tspan><tspan class="g">L</tspan>--<tspan class="b">R</tspan><tspan class="g">L</tspan><tspan class="b">R</tspan>-------------<tspan class="o">GGG</tspan><tspan class="s">T</tspan><tspan class="r">E</tspan>-<tspan class="p">P</tspan>------<tspan class="o">GG</tspan>-----------------------</text>
<text class="sq" x="146.2" y="1001.2">--------<tspan class="b">R</tspan><tspan class="g">V</tspan><tspan class="p">P</tspan><tspan class="g">L</tspan><tspan class="t">A</tspan><tspan class="s">S</tspan><tspan class="n">Q</tspan>-----------<tspan class="o">G</tspan><tspan class="g">L</tspan><tspan class="o">G</tspan>---<tspan class="p">P</tspan>-<tspan class="o">G</tspan>-<tspan class="s">ST</tspan>-<tspan class="g">VLLVV</tspan>--------<tspan class="r">D</tspan>-----------------------------------------------</text>
<text class="sq" x="146.2" y="1018.3">-<tspan class="b">K</tspan><tspan class="p">P</tspan>-----<tspan class="b">RR</tspan><tspan class="s">S</tspan><tspan class="g">L</tspan>-<tspan class="s">SS</tspan>--------<tspan class="t">Y</tspan>--<tspan class="o">G</tspan><tspan class="g">I</tspan><tspan class="r">D</tspan>----<tspan class="b">K</tspan>----------<tspan class="r">E</tspan>-<tspan class="b">K</tspan>--<tspan class="s">T</tspan><tspan class="g">I</tspan><tspan class="m">H</tspan><tspan class="g">L</tspan><tspan class="s">T</tspan><tspan class="g">L</tspan>---------<tspan class="b">K</tspan>-----------------------------------</text>
<text class="sq" x="146.2" y="1035.4">-<tspan class="g">L</tspan><tspan class="o">G</tspan><tspan class="n">Q</tspan><tspan class="c">C</tspan>---------------------<tspan class="o">G</tspan><tspan class="g">V</tspan><tspan class="r">E</tspan><tspan class="t">A</tspan>----<tspan class="g">L</tspan><tspan class="s">TT</tspan>-<tspan class="g">L</tspan><tspan class="r">E</tspan><tspan class="g">V</tspan><tspan class="t">A</tspan>-----------<tspan class="o">G</tspan>----------<tspan class="b">R</tspan>--<tspan class="g">M</tspan>-----<tspan class="g">L</tspan>-<tspan class="o">GG</tspan>-----------------------</text>
<text class="sq" x="146.2" y="1052.4">-<tspan class="b">K</tspan><tspan class="g">MM</tspan><tspan class="t">A</tspan>---<tspan class="r">D</tspan>--------------<tspan class="t">Y</tspan>--<tspan class="o">G</tspan><tspan class="g">I</tspan>----<tspan class="b">RK</tspan><tspan class="o">G</tspan><tspan class="n">N</tspan>--<tspan class="g">LL</tspan><tspan class="t">F</tspan><tspan class="g">L</tspan><tspan class="t">A</tspan>----<tspan class="c">C</tspan>---------<tspan class="t">Y</tspan>-------<tspan class="c">C</tspan>----<tspan class="g">I</tspan>----<tspan class="o">GG</tspan>-----------------------</text>
<text class="sq" x="146.2" y="1069.5">-----------------------<tspan class="t">Y</tspan><tspan class="s">T</tspan><tspan class="r">D</tspan>-<tspan class="r">D</tspan><tspan class="n">N</tspan><tspan class="t">A</tspan>-<tspan class="g">L</tspan><tspan class="p">P</tspan><tspan class="b">K</tspan>-<tspan class="n">N</tspan><tspan class="s">SS</tspan>-<tspan class="g">V</tspan>-<tspan class="g">IV</tspan>---<tspan class="b">R</tspan>-<tspan class="b">R</tspan>------------------<tspan class="g">I</tspan><tspan class="p">P</tspan>-<tspan class="g">I</tspan>----<tspan class="o">GG</tspan>-----------------------</text>
<text class="sq" x="146.2" y="1086.6">-<tspan class="b">K</tspan><tspan class="r">E</tspan>-----<tspan class="b">R</tspan><tspan class="p">P</tspan><tspan class="r">E</tspan><tspan class="g">L</tspan><tspan class="t">F</tspan>-<tspan class="g">I</tspan>---<tspan class="n">Q</tspan><tspan class="r">D</tspan><tspan class="s">S</tspan><tspan class="g">V</tspan>----------<tspan class="b">R</tspan><tspan class="p">P</tspan><tspan class="o">G</tspan><tspan class="g">I</tspan>-----<tspan class="g">LVLI</tspan><tspan class="n">N</tspan><tspan class="r">D</tspan><tspan class="t">A</tspan><tspan class="r">D</tspan><tspan class="g">W</tspan><tspan class="r">E</tspan><tspan class="g">LL</tspan><tspan class="o">G</tspan><tspan class="r">E</tspan><tspan class="g">L</tspan><tspan class="r">D</tspan><tspan class="t">Y</tspan>-<tspan class="n">Q</tspan><tspan class="g">L</tspan><tspan class="n">Q</tspan>-<tspan class="r">D</tspan><tspan class="n">Q</tspan><tspan class="r">D</tspan><tspan class="s">S</tspan><tspan class="g">VL</tspan><tspan class="t">F</tspan><tspan class="g">I</tspan><tspan class="s">ST</tspan><tspan class="g">L</tspan><tspan class="m">H</tspan><tspan class="o">GG</tspan>-----------------------</text>
<text class="sq" x="146.2" y="1103.6"><tspan class="g">I</tspan><tspan class="t">A</tspan><tspan class="r">D</tspan><tspan class="n">N</tspan><tspan class="m">H</tspan><tspan class="s">T</tspan>--<tspan class="p">P</tspan><tspan class="b">K</tspan><tspan class="r">E</tspan><tspan class="g">L</tspan><tspan class="o">G</tspan><tspan class="g">M</tspan><tspan class="r">EEED</tspan><tspan class="g">VI</tspan><tspan class="r">E</tspan><tspan class="g">V</tspan>-<tspan class="t">Y</tspan><tspan class="n">Q</tspan><tspan class="r">E</tspan><tspan class="n">Q</tspan><tspan class="r">D</tspan>----<tspan class="b">K</tspan><tspan class="p">P</tspan><tspan class="t">A</tspan><tspan class="n">Q</tspan>--<tspan class="g">L</tspan><tspan class="r">E</tspan><tspan class="g">M</tspan><tspan class="r">E</tspan>---------------------<tspan class="r">DED</tspan><tspan class="s">T</tspan><tspan class="g">I</tspan><tspan class="r">D</tspan><tspan class="g">V</tspan><tspan class="t">F</tspan><tspan class="n">QQ</tspan><tspan class="p">P</tspan><tspan class="s">T</tspan><tspan class="o">GG</tspan>-----------------------</text>
<text class="sq" x="146.2" y="1120.7">----------------------------------<tspan class="n">Q</tspan>---<tspan class="g">L</tspan><tspan class="r">E</tspan><tspan class="g">M</tspan><tspan class="r">E</tspan>---------------------<tspan class="r">DED</tspan><tspan class="s">T</tspan><tspan class="g">I</tspan><tspan class="r">D</tspan><tspan class="g">V</tspan><tspan class="t">F</tspan><tspan class="n">QQQ</tspan><tspan class="s">T</tspan><tspan class="o">GG</tspan>-----------------------</text>
<text class="sq" x="146.2" y="1137.8"><tspan class="g">I</tspan><tspan class="n">N</tspan><tspan class="r">E</tspan>---------------------<tspan class="s">T</tspan><tspan class="r">D</tspan><tspan class="s">T</tspan>------<tspan class="p">P</tspan><tspan class="t">A</tspan><tspan class="n">Q</tspan>--<tspan class="g">L</tspan><tspan class="r">E</tspan><tspan class="g">M</tspan><tspan class="r">E</tspan>---------------------<tspan class="r">DED</tspan><tspan class="s">T</tspan><tspan class="g">I</tspan><tspan class="r">D</tspan><tspan class="g">V</tspan><tspan class="t">F</tspan><tspan class="n">QQQ</tspan><tspan class="s">T</tspan><tspan class="o">GG</tspan>-----------------------</text>
<text class="sq" x="146.2" y="1154.8"><tspan class="g">I</tspan><tspan class="s">S</tspan><tspan class="o">G</tspan>---------------------<tspan class="s">T</tspan><tspan class="r">D</tspan>------<tspan class="b">K</tspan><tspan class="p">P</tspan><tspan class="t">A</tspan><tspan class="n">Q</tspan>--<tspan class="g">L</tspan><tspan class="r">E</tspan><tspan class="g">M</tspan><tspan class="r">E</tspan>---------------------<tspan class="r">DED</tspan><tspan class="s">T</tspan><tspan class="g">I</tspan><tspan class="r">D</tspan><tspan class="g">V</tspan><tspan class="t">F</tspan><tspan class="n">QQ</tspan><tspan class="p">P</tspan><tspan class="s">T</tspan><tspan class="o">GG</tspan>-----------------------</text>
<text class="sq" x="146.2" y="1171.9">-<tspan class="b">K</tspan><tspan class="g">V</tspan><tspan class="p">P</tspan><tspan class="t">AA</tspan><tspan class="s">TS</tspan><tspan class="t">A</tspan><tspan class="g">II</tspan><tspan class="s">T</tspan><tspan class="n">N</tspan><tspan class="r">D</tspan><tspan class="o">G</tspan><tspan class="g">I</tspan><tspan class="o">G</tspan><tspan class="g">I</tspan><tspan class="n">N</tspan>-<tspan class="p">P</tspan><tspan class="t">A</tspan><tspan class="n">Q</tspan><tspan class="s">T</tspan><tspan class="t">A</tspan>-<tspan class="o">G</tspan><tspan class="n">N</tspan><tspan class="g">V</tspan>-<tspan class="t">F</tspan><tspan class="g">L</tspan><tspan class="b">K</tspan><tspan class="m">H</tspan><tspan class="o">G</tspan><tspan class="s">S</tspan>-----<tspan class="r">E</tspan><tspan class="g">L</tspan><tspan class="b">R</tspan><tspan class="g">II</tspan><tspan class="p">P</tspan>-<tspan class="b">R</tspan><tspan class="r">D</tspan><tspan class="b">R</tspan>-<tspan class="g">V</tspan><tspan class="o">G</tspan><tspan class="s">S</tspan><tspan class="c">C</tspan>--------------------------------------------</text>
<text class="sq" x="146.2" y="1189">-<tspan class="b">K</tspan><tspan class="s">T</tspan>-----<tspan class="b">KK</tspan><tspan class="g">W</tspan><tspan class="t">A</tspan><tspan class="g">V</tspan><tspan class="r">E</tspan><tspan class="b">R</tspan><tspan class="s">T</tspan><tspan class="b">R</tspan><tspan class="s">T</tspan><tspan class="g">I</tspan><tspan class="n">Q</tspan>------<tspan class="o">G</tspan><tspan class="g">LI</tspan><tspan class="r">D</tspan><tspan class="t">F</tspan><tspan class="g">I</tspan><tspan class="b">KK</tspan><tspan class="t">F</tspan>-------<tspan class="g">I</tspan><tspan class="b">K</tspan><tspan class="g">LV</tspan><tspan class="t">A</tspan>-<tspan class="s">S</tspan><tspan class="r">E</tspan><tspan class="n">Q</tspan><tspan class="g">L</tspan><tspan class="t">F</tspan><tspan class="g">I</tspan>---<tspan class="t">Y</tspan><tspan class="g">V</tspan><tspan class="n">NQ</tspan><tspan class="s">S</tspan>----<tspan class="t">FA</tspan><tspan class="p">P</tspan><tspan class="s">S</tspan><tspan class="p">P</tspan><tspan class="r">D</tspan><tspan class="n">Q</tspan><tspan class="r">E</tspan><tspan class="g">V</tspan><tspan class="o">G</tspan><tspan class="s">T</tspan><tspan class="g">L</tspan><tspan class="t">Y</tspan>-----<tspan class="r">E</tspan><tspan class="c">C</tspan>-<tspan class="t">F</tspan><tspan class="o">G</tspan><tspan class="s">S</tspan><tspan class="r">D</tspan><tspan class="o">G</tspan><tspan class="b">K</tspan><tspan class="g">LVL</tspan><tspan class="m">H</tspan><tspan class="t">Y</tspan><tspan class="c">C</tspan><tspan class="b">K</tspan></text>
<text class="sq" x="146.2" y="1206.1"><tspan class="b">RKR</tspan><tspan class="g">IML</tspan>--<tspan class="p">PP</tspan><tspan class="r">E</tspan><tspan class="b">K</tspan><tspan class="t">A</tspan><tspan class="g">I</tspan><tspan class="t">F</tspan><tspan class="g">I</tspan><tspan class="t">F</tspan>-<tspan class="g">V</tspan><tspan class="n">N</tspan><tspan class="r">D</tspan><tspan class="s">T</tspan>---------<tspan class="g">L</tspan><tspan class="p">PP</tspan>-<tspan class="s">T</tspan><tspan class="t">AA</tspan><tspan class="g">LM</tspan>-<tspan class="s">S</tspan><tspan class="t">A</tspan>----------<tspan class="g">I</tspan>---<tspan class="t">Y</tspan>---<tspan class="n">Q</tspan><tspan class="r">E</tspan><tspan class="m">H</tspan><tspan class="b">K</tspan>------<tspan class="r">D</tspan><tspan class="b">K</tspan><tspan class="r">D</tspan>-<tspan class="o">G</tspan><tspan class="t">F</tspan><tspan class="g">L</tspan><tspan class="t">Y</tspan><tspan class="g">V</tspan><tspan class="s">T</tspan><tspan class="t">Y</tspan><tspan class="s">S</tspan><tspan class="o">G</tspan><tspan class="r">E</tspan><tspan class="n">N</tspan><tspan class="s">T</tspan><tspan class="t">F</tspan><tspan class="o">G</tspan>-----------</text>
</g>
</svg>
